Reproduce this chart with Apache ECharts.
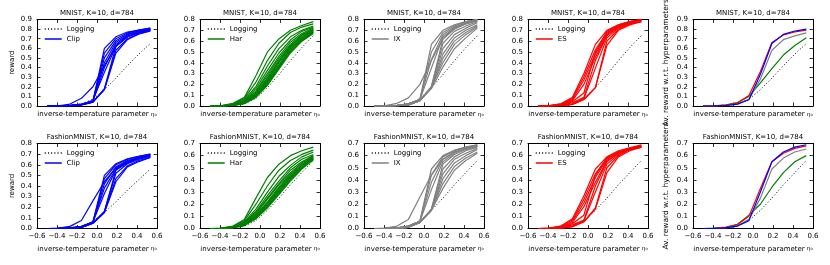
<!DOCTYPE html>
<html><head><meta charset="utf-8">
<script src="https://cdn.jsdelivr.net/npm/echarts@6/dist/echarts.min.js"></script>
<style>html,body{margin:0;padding:0;background:#fff}#c{width:830px;height:265px}</style>
</head><body><div id="c"></div>
<script>
// ---------------- DATA ----------------
const eta = [-0.5, -0.385, -0.27, -0.156, -0.041, 0.074, 0.189, 0.304, 0.418, 0.533];
const xTickLabels = {'-0.6':'\u22120.6','-0.4':'\u22120.4','-0.2':'\u22120.2','0':'0.0','0.2':'0.2','0.4':'0.4','0.6':'0.6'};
const rowTitles = ['MNIST, K=10, d=784', 'FashionMNIST, K=10, d=784'];
const methodNames = ['Clip', 'Har', 'IX', 'ES'];
const yMaxTop = [0.9, 0.8, 0.8, 0.8, 0.9];
const yMaxBottom = [0.8, 0.7, 0.7, 0.7, 0.7];

const mnistLogging = [0, 0.002, 0.006, 0.02, 0.07, 0.17, 0.29, 0.42, 0.54, 0.65];
const fashionLogging = [0, 0.002, 0.006, 0.02, 0.065, 0.15, 0.25, 0.36, 0.46, 0.56];

const mnistClip = [
  [0, 0.002, 0.02, 0.08, 0.20, 0.42, 0.62, 0.72, 0.77, 0.80],
  [0, 0.001, 0.005, 0.02, 0.05, 0.60, 0.72, 0.77, 0.79, 0.81],
  [0, 0.001, 0.005, 0.02, 0.05, 0.55, 0.70, 0.76, 0.79, 0.81],
  [0, 0.001, 0.004, 0.015, 0.05, 0.50, 0.68, 0.75, 0.78, 0.80],
  [0, 0.001, 0.004, 0.015, 0.05, 0.45, 0.66, 0.74, 0.78, 0.80],
  [0, 0.001, 0.004, 0.015, 0.05, 0.40, 0.64, 0.73, 0.77, 0.79],
  [0, 0.001, 0.004, 0.015, 0.06, 0.35, 0.62, 0.72, 0.76, 0.79],
  [0, 0.001, 0.003, 0.01, 0.04, 0.17, 0.58, 0.70, 0.75, 0.78],
  [0, 0.001, 0.003, 0.01, 0.04, 0.17, 0.55, 0.69, 0.75, 0.78],
  [0, 0.001, 0.003, 0.01, 0.04, 0.18, 0.62, 0.72, 0.76, 0.79]
];
const mnistHar = [
  [0, 0.003, 0.025, 0.08, 0.28, 0.50, 0.62, 0.70, 0.745, 0.78],
  [0, 0.002, 0.02, 0.07, 0.22, 0.42, 0.58, 0.68, 0.73, 0.76],
  [0, 0.002, 0.015, 0.06, 0.18, 0.37, 0.53, 0.64, 0.70, 0.74],
  [0, 0.002, 0.012, 0.05, 0.16, 0.33, 0.49, 0.61, 0.69, 0.73],
  [0, 0.002, 0.01, 0.045, 0.14, 0.30, 0.46, 0.59, 0.67, 0.72],
  [0, 0.001, 0.01, 0.04, 0.13, 0.28, 0.44, 0.57, 0.66, 0.71],
  [0, 0.001, 0.009, 0.038, 0.12, 0.26, 0.42, 0.56, 0.65, 0.71],
  [0, 0.001, 0.008, 0.035, 0.11, 0.25, 0.41, 0.55, 0.64, 0.70],
  [0, 0.001, 0.008, 0.033, 0.105, 0.24, 0.40, 0.54, 0.63, 0.70],
  [0, 0.001, 0.007, 0.03, 0.10, 0.23, 0.38, 0.53, 0.62, 0.69],
  [0, 0.001, 0.007, 0.028, 0.095, 0.22, 0.37, 0.52, 0.62, 0.69],
  [0, 0.001, 0.006, 0.026, 0.09, 0.21, 0.36, 0.51, 0.61, 0.68],
  [0, 0.001, 0.006, 0.024, 0.085, 0.20, 0.35, 0.50, 0.60, 0.68],
  [0, 0.001, 0.005, 0.022, 0.08, 0.19, 0.34, 0.49, 0.60, 0.67]
];
const mnistIX = [
  [0, 0.003, 0.025, 0.075, 0.20, 0.42, 0.62, 0.72, 0.77, 0.80],
  [0, 0.001, 0.005, 0.02, 0.06, 0.57, 0.70, 0.75, 0.78, 0.80],
  [0, 0.001, 0.005, 0.02, 0.06, 0.50, 0.68, 0.74, 0.78, 0.80],
  [0, 0.001, 0.005, 0.02, 0.06, 0.43, 0.66, 0.73, 0.77, 0.79],
  [0, 0.001, 0.004, 0.02, 0.06, 0.35, 0.64, 0.72, 0.76, 0.79],
  [0, 0.001, 0.003, 0.01, 0.05, 0.18, 0.62, 0.71, 0.76, 0.79],
  [0, 0.001, 0.003, 0.01, 0.05, 0.18, 0.58, 0.69, 0.74, 0.78],
  [0, 0.001, 0.003, 0.01, 0.05, 0.17, 0.53, 0.66, 0.72, 0.77],
  [0, 0.001, 0.003, 0.01, 0.05, 0.17, 0.48, 0.63, 0.70, 0.75],
  [0, 0.001, 0.003, 0.01, 0.05, 0.17, 0.44, 0.60, 0.68, 0.74],
  [0, 0.001, 0.003, 0.01, 0.05, 0.17, 0.40, 0.57, 0.66, 0.73],
  [0, 0.001, 0.003, 0.01, 0.05, 0.16, 0.36, 0.53, 0.63, 0.72]
];
const mnistES = [
  [0, 0.003, 0.02, 0.08, 0.30, 0.57, 0.70, 0.75, 0.78, 0.80],
  [0, 0.003, 0.02, 0.07, 0.27, 0.52, 0.68, 0.74, 0.78, 0.80],
  [0, 0.002, 0.015, 0.06, 0.24, 0.48, 0.67, 0.74, 0.77, 0.79],
  [0, 0.002, 0.01, 0.05, 0.20, 0.45, 0.66, 0.73, 0.77, 0.79],
  [0, 0.001, 0.008, 0.04, 0.12, 0.50, 0.69, 0.75, 0.78, 0.80],
  [0, 0.001, 0.005, 0.03, 0.08, 0.42, 0.65, 0.73, 0.77, 0.79],
  [0, 0.001, 0.004, 0.02, 0.07, 0.35, 0.63, 0.72, 0.76, 0.79],
  [0, 0.001, 0.003, 0.015, 0.06, 0.17, 0.60, 0.71, 0.76, 0.78],
  [0, 0.001, 0.003, 0.015, 0.06, 0.17, 0.56, 0.70, 0.75, 0.78]
];
const mnistAvgHar  = [0, 0.002, 0.012, 0.035, 0.10, 0.24, 0.39, 0.53, 0.63, 0.71];
const mnistAvgIX   = [0, 0.001, 0.006, 0.02, 0.07, 0.28, 0.58, 0.69, 0.73, 0.76];
const mnistAvgES   = [0, 0.002, 0.01, 0.03, 0.11, 0.36, 0.66, 0.74, 0.77, 0.79];
const mnistAvgClip = [0, 0.001, 0.005, 0.02, 0.065, 0.33, 0.65, 0.745, 0.78, 0.80];

const fashionClip = [
  [0, 0.003, 0.02, 0.075, 0.26, 0.44, 0.57, 0.63, 0.665, 0.69],
  [0, 0.001, 0.005, 0.02, 0.06, 0.50, 0.61, 0.655, 0.68, 0.70],
  [0, 0.001, 0.005, 0.02, 0.06, 0.47, 0.60, 0.65, 0.68, 0.70],
  [0, 0.001, 0.004, 0.015, 0.06, 0.42, 0.58, 0.64, 0.67, 0.69],
  [0, 0.001, 0.004, 0.015, 0.06, 0.38, 0.56, 0.63, 0.67, 0.69],
  [0, 0.001, 0.004, 0.015, 0.06, 0.33, 0.55, 0.62, 0.66, 0.68],
  [0, 0.001, 0.003, 0.01, 0.05, 0.16, 0.52, 0.61, 0.65, 0.68],
  [0, 0.001, 0.003, 0.01, 0.05, 0.15, 0.47, 0.59, 0.64, 0.67],
  [0, 0.001, 0.003, 0.01, 0.05, 0.15, 0.44, 0.58, 0.63, 0.67],
  [0, 0.001, 0.003, 0.01, 0.05, 0.16, 0.55, 0.62, 0.66, 0.69]
];
const fashionHar = [
  [0, 0.003, 0.02, 0.075, 0.25, 0.42, 0.53, 0.60, 0.64, 0.67],
  [0, 0.002, 0.018, 0.065, 0.20, 0.35, 0.48, 0.56, 0.61, 0.645],
  [0, 0.002, 0.015, 0.055, 0.16, 0.30, 0.43, 0.52, 0.59, 0.63],
  [0, 0.002, 0.012, 0.05, 0.14, 0.27, 0.39, 0.50, 0.57, 0.61],
  [0, 0.002, 0.01, 0.045, 0.13, 0.25, 0.37, 0.48, 0.55, 0.60],
  [0, 0.001, 0.01, 0.04, 0.12, 0.24, 0.36, 0.46, 0.54, 0.60],
  [0, 0.001, 0.009, 0.038, 0.11, 0.22, 0.34, 0.45, 0.53, 0.59],
  [0, 0.001, 0.008, 0.035, 0.105, 0.21, 0.33, 0.44, 0.52, 0.59],
  [0, 0.001, 0.008, 0.033, 0.10, 0.20, 0.32, 0.43, 0.52, 0.58],
  [0, 0.001, 0.007, 0.03, 0.095, 0.19, 0.31, 0.42, 0.51, 0.58],
  [0, 0.001, 0.007, 0.028, 0.09, 0.18, 0.30, 0.41, 0.50, 0.57],
  [0, 0.001, 0.006, 0.026, 0.085, 0.175, 0.29, 0.40, 0.50, 0.57],
  [0, 0.001, 0.006, 0.024, 0.08, 0.17, 0.28, 0.39, 0.49, 0.565]
];
const fashionIX = [
  [0, 0.003, 0.02, 0.075, 0.26, 0.44, 0.57, 0.63, 0.66, 0.685],
  [0, 0.001, 0.005, 0.02, 0.06, 0.49, 0.60, 0.645, 0.67, 0.69],
  [0, 0.001, 0.005, 0.02, 0.06, 0.44, 0.59, 0.64, 0.67, 0.69],
  [0, 0.001, 0.004, 0.02, 0.06, 0.38, 0.57, 0.63, 0.66, 0.68],
  [0, 0.001, 0.004, 0.02, 0.06, 0.32, 0.55, 0.62, 0.66, 0.68],
  [0, 0.001, 0.003, 0.01, 0.05, 0.16, 0.53, 0.61, 0.65, 0.675],
  [0, 0.001, 0.003, 0.01, 0.05, 0.16, 0.49, 0.59, 0.64, 0.67],
  [0, 0.001, 0.003, 0.01, 0.05, 0.15, 0.45, 0.57, 0.62, 0.66],
  [0, 0.001, 0.003, 0.01, 0.05, 0.15, 0.41, 0.54, 0.60, 0.65],
  [0, 0.001, 0.003, 0.01, 0.05, 0.15, 0.37, 0.51, 0.58, 0.63],
  [0, 0.001, 0.003, 0.01, 0.05, 0.15, 0.33, 0.48, 0.56, 0.62]
];
const fashionES = [
  [0, 0.003, 0.02, 0.08, 0.27, 0.49, 0.59, 0.64, 0.665, 0.69],
  [0, 0.003, 0.02, 0.07, 0.24, 0.45, 0.58, 0.63, 0.66, 0.68],
  [0, 0.002, 0.015, 0.06, 0.21, 0.42, 0.57, 0.63, 0.66, 0.68],
  [0, 0.002, 0.01, 0.05, 0.18, 0.38, 0.56, 0.62, 0.66, 0.68],
  [0, 0.001, 0.008, 0.04, 0.11, 0.44, 0.58, 0.63, 0.66, 0.68],
  [0, 0.001, 0.005, 0.03, 0.07, 0.35, 0.55, 0.62, 0.65, 0.67],
  [0, 0.001, 0.004, 0.02, 0.065, 0.30, 0.53, 0.61, 0.65, 0.67],
  [0, 0.001, 0.003, 0.015, 0.055, 0.17, 0.50, 0.60, 0.65, 0.67],
  [0, 0.001, 0.003, 0.015, 0.055, 0.16, 0.46, 0.59, 0.64, 0.67]
];
const fashionAvgHar  = [0, 0.003, 0.012, 0.035, 0.11, 0.20, 0.34, 0.46, 0.55, 0.60];
const fashionAvgIX   = [0, 0.001, 0.006, 0.02, 0.075, 0.25, 0.49, 0.58, 0.63, 0.655];
const fashionAvgES   = [0, 0.002, 0.01, 0.03, 0.10, 0.33, 0.55, 0.62, 0.66, 0.68];
const fashionAvgClip = [0, 0.001, 0.005, 0.02, 0.065, 0.30, 0.55, 0.63, 0.67, 0.69];

// ---------------- LAYOUT / STYLE ----------------
const FONT = 'DejaVu Sans';
const colors = { Clip: '#0000ff', Har: '#008000', IX: '#808080', ES: '#ff0000' };
const gridLefts = [37, 200, 364, 528, 693];
const gridW = 120;
const rowTops = [19.5, 143.5];
const rowHeights = [86.5, 85];

const rows = [
  { title: rowTitles[0], logging: mnistLogging, methods: [mnistClip, mnistHar, mnistIX, mnistES],
    avg: { Har: mnistAvgHar, IX: mnistAvgIX, ES: mnistAvgES, Clip: mnistAvgClip }, yMax: yMaxTop },
  { title: rowTitles[1], logging: fashionLogging, methods: [fashionClip, fashionHar, fashionIX, fashionES],
    avg: { Har: fashionAvgHar, IX: fashionAvgIX, ES: fashionAvgES, Clip: fashionAvgClip }, yMax: yMaxBottom }
];

const pairs = arr => arr.map((v, i) => [eta[i], v]);
const fmtX = v => { const k = String(Math.round(v * 10) / 10); return xTickLabels[k] !== undefined ? xTickLabels[k] : k; };
const fmtY = v => Math.abs(v) < 1e-9 ? '0.0' : v.toFixed(1);

const grid = [], xAxis = [], xAxisTop = [], yAxis = [], yAxisRight = [], series = [], legend = [];
const axisLine = { show: true, onZero: false, lineStyle: { color: '#000', width: 1 } };
const axisTick = { show: true, inside: true, length: 3.5, lineStyle: { color: '#000', width: 0.8 } };
const xName = '{t|inverse-temperature parameter }{e|\u03b7\u2080}';
const nameRich = { t: { fontSize: 7, fontFamily: FONT, color: '#000' }, e: { fontSize: 5.5, fontFamily: FONT, color: '#000' } };

rows.forEach((row, r) => {
  for (let c = 0; c < 5; c++) {
    const gi = r * 5 + c;
    const yMax = row.yMax[c];
    grid.push({ left: gridLefts[c], top: rowTops[r], width: gridW, height: rowHeights[r], show: false,
                containLabel: false, outerBoundsMode: 'none' });
    xAxis.push({
      gridIndex: gi, type: 'value', min: -0.6, max: 0.6, interval: 0.2, position: 'bottom',
      axisLine, axisTick, splitLine: { show: false },
      axisLabel: { show: r === 1, fontSize: 7, fontFamily: FONT, color: '#000', margin: 4, formatter: fmtX },
      name: xName, nameLocation: 'middle', nameGap: r === 1 ? 17 : 5,
      nameTextStyle: { rich: nameRich }
    });
    xAxisTop.push({
      gridIndex: gi, type: 'value', min: -0.6, max: 0.6, interval: 0.2, position: 'top',
      axisLine, axisTick, splitLine: { show: false }, axisLabel: { show: false },
      name: row.title, nameLocation: 'middle', nameGap: 3,
      nameTextStyle: { fontSize: 7, fontFamily: FONT, color: '#000' }
    });
    let yName = '';
    if (c === 0) yName = 'reward';
    if (c === 4) yName = 'Av. reward w.r.t. hyperparameters';
    yAxis.push({
      gridIndex: gi, type: 'value', min: 0, max: yMax, interval: 0.1, position: 'left',
      axisLine, axisTick, splitLine: { show: false },
      axisLabel: { fontSize: 7, fontFamily: FONT, color: '#000', margin: 5, formatter: fmtY },
      name: yName, nameLocation: 'middle', nameGap: c === 4 ? 23 : 21,
      nameTextStyle: { fontSize: c === 4 ? 7.5 : 7, fontFamily: FONT, color: '#000' }
    });
    yAxisRight.push({
      gridIndex: gi, type: 'value', min: 0, max: yMax, interval: 0.1, position: 'right',
      axisLine, axisTick, splitLine: { show: false }, axisLabel: { show: false }
    });
    // logging (dotted)
    series.push({
      type: 'line', name: 'Logging', xAxisIndex: gi, yAxisIndex: gi, data: pairs(row.logging),
      symbol: 'none', silent: true, animation: false,
      lineStyle: { color: '#000', width: 1, type: [1, 2.2] }
    });
    if (c < 4) {
      const m = methodNames[c];
      row.methods[c].forEach(curve => {
        series.push({
          type: 'line', name: m, xAxisIndex: gi, yAxisIndex: gi, data: pairs(curve),
          symbol: 'none', silent: true, animation: false,
          lineStyle: { color: colors[m], width: 1.2 }
        });
      });
      legend.push({
        orient: 'vertical', left: gridLefts[c] + 7, top: rowTops[r] + 6,
        itemWidth: 17, itemHeight: 8, itemGap: 3, padding: 0,
        itemStyle: { opacity: 0 },
        lineStyle: { width: 1.5 },
        textStyle: { fontSize: 7, fontFamily: FONT, color: '#000' },
        data: ['Logging', m], selectedMode: false
      });
    } else {
      ['Har', 'IX', 'ES', 'Clip'].forEach(m => {
        series.push({
          type: 'line', name: 'avg ' + m, xAxisIndex: gi, yAxisIndex: gi, data: pairs(row.avg[m]),
          symbol: 'none', silent: true, animation: false,
          lineStyle: { color: colors[m], width: 1.2 }
        });
      });
    }
  }
});

const allX = xAxis.concat(xAxisTop);
const allY = yAxis.concat(yAxisRight);

const chart = echarts.init(document.getElementById('c'), null, { renderer: 'canvas' });
chart.setOption({
  backgroundColor: '#fff',
  animation: false,
  textStyle: { fontFamily: FONT },
  grid, xAxis: allX, yAxis: allY, legend, series
});
</script>
</body></html>
